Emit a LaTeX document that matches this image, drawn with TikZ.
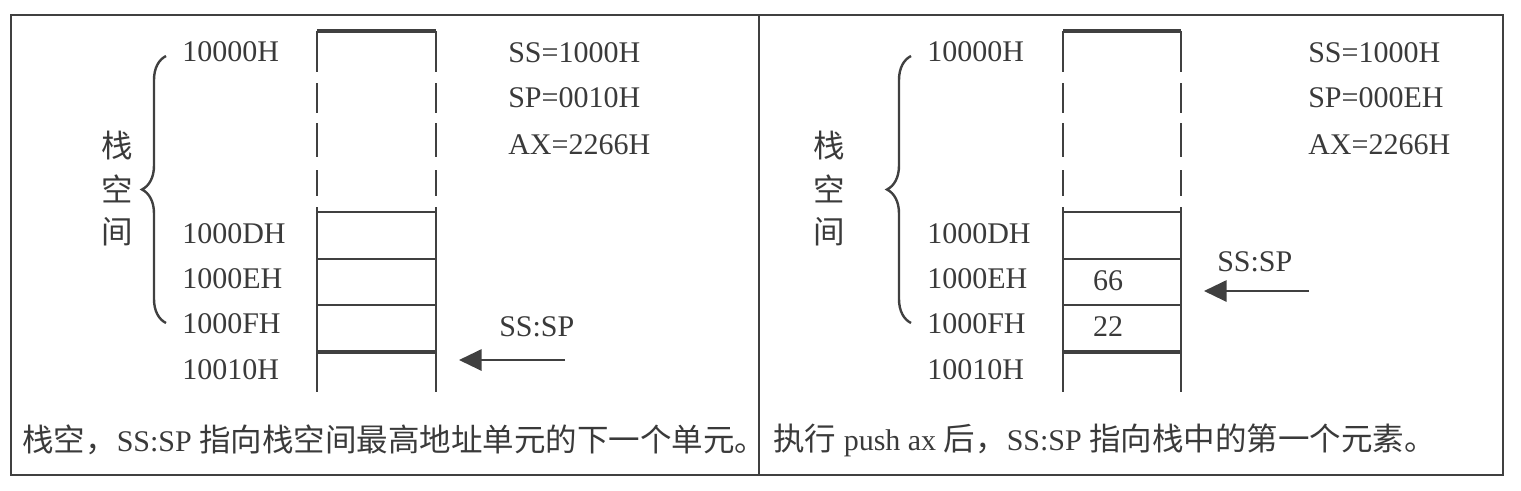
\documentclass[tikz,border=0pt]{standalone}
\usepackage{fontspec}
\setmainfont{Liberation Serif}
\newfontfamily\cjk[Scale=1.05]{Noto Sans CJK SC}
\usetikzlibrary{decorations.pathreplacing,arrows.meta}
\definecolor{ink}{HTML}{3A3A3A}
\definecolor{lne}{HTML}{404040}
\newcommand\zh[1]{{\cjk #1}}
\begin{document}
\begin{tikzpicture}[x=0.75pt,y=-0.75pt,
  txt/.style={font=\fontsize{22.5}{27}\selectfont, text=ink, inner sep=0pt},
  lbl/.style={txt, anchor=west},
  side/.style={draw=lne, line width=1.6pt},
  rung/.style={draw=lne, line width=2pt},
  rungthick/.style={draw=lne, line width=2.6pt},
  frame/.style={draw=lne, line width=1.5pt},
  bracestyle/.style={draw=lne, line width=1.8pt, decorate, decoration={brace, amplitude=18pt}},
  ptr/.style={draw=lne, line width=1.6pt, -{Triangle[length=17pt,width=16pt]}}]
\useasboundingbox (0,0) rectangle (1521,490);
% outer frame
\draw[frame] (11,15) rectangle (1503,475);
\draw[frame] (759,15) -- (759,475);

% ---------- left panel ----------
\node[lbl] (l0) at (182,52) {10000H};
\node[lbl] (lD) at (182,234) {1000DH};
\node[lbl] (lE) at (182,279) {1000EH};
\node[lbl] (lF) at (182,324) {1000FH};
\node[lbl] (l10) at (182,370) {10010H};
\node[txt] (z1) at (117,146) {\zh{栈}};
\node[txt] (z2) at (117,189) {\zh{空}};
\node[txt] (z3) at (117,232) {\zh{间}};
\draw[bracestyle] (166,323) -- (166,56);
% stack
\draw[rungthick] (317,31) -- (436,31);
\foreach \a/\b in {31/72,83/113,123/157,170/196,207/392}{
  \draw[side] (317,\a) -- (317,\b);
  \draw[side] (436,\a) -- (436,\b);
}
\draw[rung] (317,212) -- (436,212);
\draw[rung] (317,259) -- (436,259);
\draw[rung] (317,305) -- (436,305);
\draw[rungthick] (317,352) -- (436,352);
\node[lbl] (ss1) at (508,53) {SS=1000H};
\node[lbl] (sp1) at (508,98) {SP=0010H};
\node[lbl] (ax1) at (508,145) {AX=2266H};
\node[lbl] (p1) at (499,327) {SS:SP};
\coordinate (a1s) at (565,360);
\coordinate (a1e) at (459,360);
\draw[ptr] (a1s) -- (a1e);
\node[lbl] (c1) at (22,440) {\zh{栈空，}SS:SP \zh{指向栈空间最高地址单元的下一个单元。}};

% ---------- right panel ----------
\begin{scope}[shift={(745,0)}]
\node[lbl] (r0) at (182,52) {10000H};
\node[lbl] (rD) at (182,234) {1000DH};
\node[lbl] (rE) at (182,279) {1000EH};
\node[lbl] (rF) at (182,324) {1000FH};
\node[lbl] (r10) at (182,370) {10010H};
\node[txt] (y1) at (84,146) {\zh{栈}};
\node[txt] (y2) at (84,189) {\zh{空}};
\node[txt] (y3) at (84,232) {\zh{间}};
\draw[bracestyle] (166,323) -- (166,56);
\draw[rungthick] (318,31) -- (436,31);
\foreach \a/\b in {31/72,83/113,123/157,170/196,207/392}{
  \draw[side] (318,\a) -- (318,\b);
  \draw[side] (436,\a) -- (436,\b);
}
\draw[rung] (318,212) -- (436,212);
\draw[rung] (318,259) -- (436,259);
\draw[rung] (318,305) -- (436,305);
\draw[rungthick] (318,352) -- (436,352);
\node[txt] (v66) at (363,281) {66};
\node[txt] (v22) at (363,327) {22};
\end{scope}
\node[lbl] (ss2) at (1308,53) {SS=1000H};
\node[lbl] (sp2) at (1308,98) {SP=000EH};
\node[lbl] (ax2) at (1308,145) {AX=2266H};
\node[lbl] (p2) at (1217,262) {SS:SP};
\coordinate (a2s) at (1309,291);
\coordinate (a2e) at (1204,291);
\draw[ptr] (a2s) -- (a2e);
\node[lbl] (c2) at (773,440) {\zh{执行} push ax \zh{后，}SS:SP \zh{指向栈中的第一个元素。}};
\end{tikzpicture}
\end{document}
